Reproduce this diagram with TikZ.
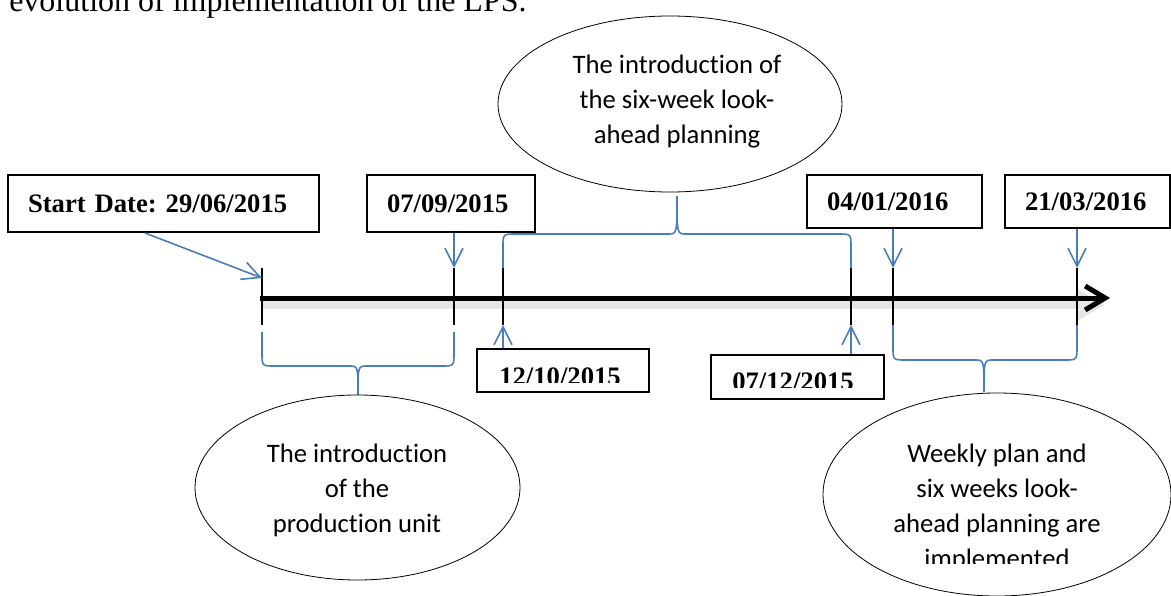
\documentclass[tikz,border=0pt]{standalone}
\usepackage{fontspec}
\setmainfont{Liberation Serif}
\newfontfamily\ovalfont[Ligatures=NoCommon]{Carlito}
\usetikzlibrary{arrows.meta,shapes.geometric}
\definecolor{wordblue}{RGB}{74,126,187}
\frenchspacing

\begin{document}
\begin{tikzpicture}[
  x=0.75pt, y=-0.75pt,
  datebox/.style={draw, line width=1.5pt, inner xsep=15pt, inner ysep=0pt, align=left,
    font=\fontsize{20pt}{24pt}\selectfont\bfseries, text height=13.6pt, text depth=0pt},
  datetxt/.style={font=\fontsize{20pt}{24pt}\selectfont\bfseries, inner sep=0pt},
  oval/.style={ellipse, draw, line width=0.6pt, inner sep=0pt},
  ovaltxt/.style={font=\ovalfont\fontsize{20pt}{26.25pt}\selectfont, align=center, inner sep=0pt},
  tick/.style={draw=black, line width=1.5pt},
  timeline/.style={line width=3.75pt, -{Straight Barb[length=15pt, width=18pt]}},
  bluearr/.style={draw=wordblue, line width=1.2pt, -{Straight Barb[length=13.5pt, width=13.5pt]}},
  brc/.style={draw=wordblue, line width=1.2pt}
]
\useasboundingbox (0,0) rectangle (1171,596);

\node[anchor=base west, font=\fontsize{24pt}{28pt}\selectfont, inner sep=0pt] (caption) at (9,12) {evolution of implementation of the LPS.};

% date boxes
\node[datebox, text width=203.25pt, minimum height=42.75pt] (d1) at (163.5,203.5) {Start Date: 29/06/2015};
\node[datebox, text width=96pt, minimum height=42.75pt] (d2) at (451,203.5) {07/09/2015};
\node[datebox, text width=101.25pt, minimum height=39.75pt] (d3) at (894.5,201.5) {04/01/2016};
\node[datebox, text width=93.75pt, minimum height=39.75pt] (d4) at (1087.5,201.5) {21/03/2016};
\node[datebox, minimum width=129pt, minimum height=32.25pt] (d5) at (563,370.5) {};
\node[datebox, minimum width=129.75pt, minimum height=33pt] (d6) at (797.5,377) {};
\begin{scope}
  \clip (d5.north west) rectangle (649,382);
  \node[datetxt, anchor=base west] (t5) at (499,385) {12/10/2015};
\end{scope}
\begin{scope}
  \clip (d6.north west) rectangle (884,387);
  \node[datetxt, anchor=base west] (t6) at (732,390) {07/12/2015};
\end{scope}

% timeline
\coordinate (tl0) at (260,298);
\coordinate (tl1) at (1110,298);
\draw[timeline, black!10, line width=6pt] (262,305) -- (1104,305);
\draw[timeline] (tl0) -- (tl1);

\coordinate (k1t) at (262,268); \coordinate (k1b) at (262,325);
\coordinate (k2t) at (454,268); \coordinate (k2b) at (454,325);
\coordinate (k3t) at (503,268); \coordinate (k3b) at (503,325);
\coordinate (k4t) at (851,268); \coordinate (k4b) at (851,325);
\coordinate (k5t) at (893,268); \coordinate (k5b) at (893,325);
\coordinate (k6t) at (1077,268); \coordinate (k6b) at (1077,325);
\draw[tick] (k1t) -- (k1b);
\draw[tick] (k2t) -- (k2b);
\draw[tick] (k3t) -- (k3b);
\draw[tick] (k4t) -- (k4b);
\draw[tick] (k5t) -- (k5b);
\draw[tick] (k6t) -- (k6b);

% pointers
\draw[bluearr] ([xshift=-13.9pt]d1.south) -- ([yshift=-7.5pt]k1t);
\draw[bluearr] (d2.south -| k2t) -- (k2t);
\draw[bluearr] (d5.north -| k3b) -- (k3b);
\draw[bluearr] (d6.north -| k4b) -- (k4b);
\draw[bluearr] (d3.south -| k5t) -- (k5t);
\draw[bluearr] (d4.south -| k6t) -- (k6t);

% braces
\draw[brc] (262,332) -- (262,353) .. controls (262,366) .. (275,366) -- (349,366)
  .. controls (358,366) .. (358,395) .. controls (358,366) .. (367,366) -- (441,366)
  .. controls (454,366) .. (454,353) -- (454,332);
\draw[brc] (k3t) -- (503,247) .. controls (503,234) .. (516,234) -- (668,234)
  .. controls (677,234) .. (677,196) .. controls (677,234) .. (686,234) -- (838,234)
  .. controls (851,234) .. (851,247) -- (k4t);
\draw[brc] (k5b) -- (893,347) .. controls (893,360) .. (906,360) -- (975,360)
  .. controls (984,360) .. (984,392) .. controls (984,360) .. (993,360) -- (1064,360)
  .. controls (1077,360) .. (1077,347) -- (k6b);

% ovals
\node[oval, minimum width=258pt, minimum height=132pt] (e1) at (670,104) {};
\node[oval, minimum width=243.75pt, minimum height=138.75pt] (e2) at (357.5,487.5) {};
\node[oval, minimum width=261pt, minimum height=152.25pt] (e3) at (997,494.5) {};
\node[ovaltxt] (o1) at (677,101.5) {The introduction of\\the six-week look-\\ahead planning};
\node[ovaltxt] (o2) at (357,490.5) {The introduction\\of the\\production unit};
\begin{scope}
  \clip (820,420) rectangle (1171,563);
  \node[ovaltxt] (o3) at (997,508) {Weekly plan and\\six weeks look-\\ahead planning are\\implemented};
\end{scope}

\end{tikzpicture}
\end{document}
